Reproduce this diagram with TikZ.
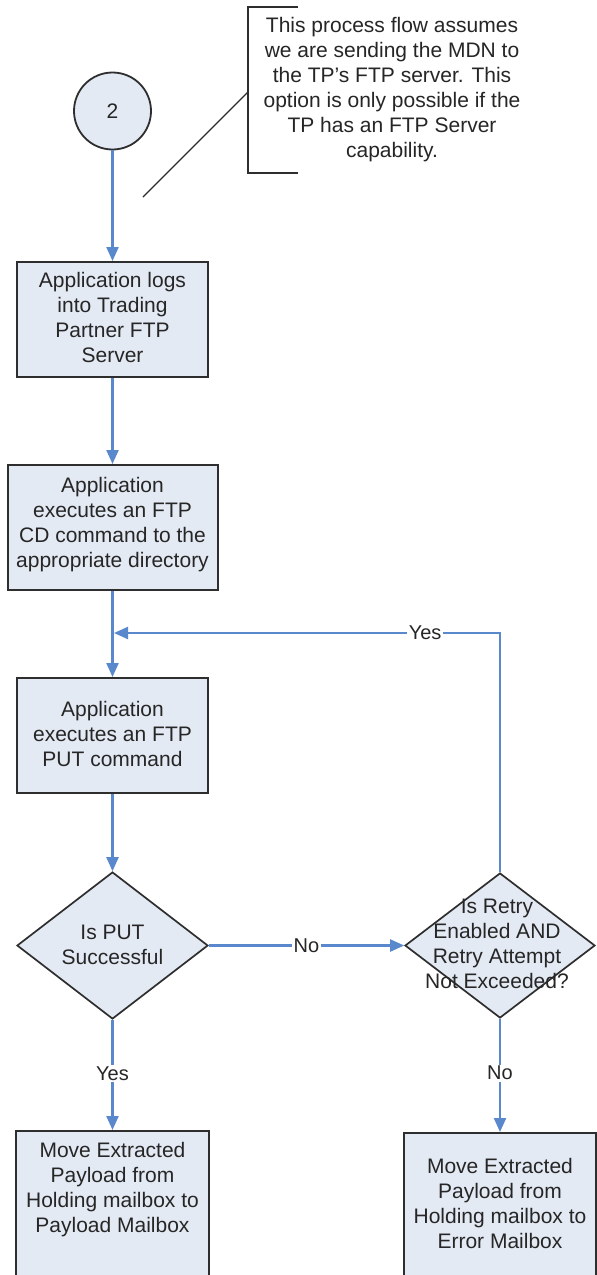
\documentclass[tikz,border=0pt]{standalone}
\usepackage{fontspec}
\setmainfont{Liberation Sans}
\usetikzlibrary{shapes.geometric,arrows.meta}
\definecolor{boxfill}{HTML}{E4EAF4}
\definecolor{boxdraw}{HTML}{2E2E2E}
\definecolor{flow}{HTML}{5A88CC}
\definecolor{txt}{HTML}{262626}
\tikzset{
  proc/.style={draw=boxdraw, line width=2pt, fill=boxfill, inner sep=0pt},
  dec/.style={diamond, draw=boxdraw, line width=1.7pt, fill=boxfill, inner sep=0pt},
  lbl/.style={text=txt, align=center, inner sep=0pt, font=\fontsize{21}{25}\selectfont},
  edgelbl/.style={fill=white, text=txt, inner sep=1.5pt, font=\fontsize{20}{24}\selectfont},
  flowline/.style={draw=flow, line width=2.2pt},
  arr/.style={flowline, -{Triangle[length=14pt,width=12pt]}},
  note/.style={draw=boxdraw, line width=1.7pt},
}
\begin{document}
\begin{tikzpicture}[x=1pt,y=-1pt]
\clip (0,0) rectangle (597,1275);
\fill[white] (0,0) rectangle (597,1275);

% start connector circle
\node[circle, draw=boxdraw, line width=1.8pt, fill=boxfill, minimum size=77pt, inner sep=0pt,
      text=txt, font=\fontsize{21}{25}\selectfont] (c2) at (112.5,111) {2};

% annotation
\coordinate (bt) at (298,7);
\coordinate (btl) at (248,7);
\coordinate (bbl) at (248,173);
\coordinate (bb) at (298,173);
\coordinate (bmid) at (248,92);
\coordinate (ptr) at (143,197);
\draw[note] (bt) -- (btl) -- (bbl) -- (bb);
\draw[draw=boxdraw, line width=1.4pt] (bmid) -- (ptr);
\node[lbl] (notetext) at (392,89.5) {This process flow assumes\\we are sending the MDN to\\the TP's FTP server. This\\option is only possible if the\\TP has an FTP Server\\capability.};

% process boxes
\node[proc, minimum width=191pt, minimum height=115pt] (b1) at (112.5,319.5) {};
\node[lbl] (b1t) at (112.5,317) {Application logs\\into Trading\\Partner FTP\\Server};

\node[proc, minimum width=210pt, minimum height=125pt] (b2) at (112.5,527.5) {};
\node[lbl] (b2t) at (112.5,524.5) {Application\\executes an FTP\\CD command to the\\appropriate directory};

\node[proc, minimum width=191pt, minimum height=115pt] (b3) at (112.5,735.5) {};
\node[lbl] (b3t) at (112.5,733.5) {Application\\executes an FTP\\PUT command};

% decisions
\node[dec, minimum width=191pt, minimum height=147pt] (d1) at (112.5,945.5) {};
\node[lbl] (d1t) at (112.5,945) {Is PUT\\Successful};

\node[dec, minimum width=190pt, minimum height=145pt] (d2) at (500,945.5) {};
\node[lbl] (d2t) at (497,944) {Is Retry\\Enabled AND\\Retry Attempt\\Not Exceeded?};

% end boxes (run off the bottom edge)
\node[proc, anchor=north, minimum width=193pt, minimum height=170pt] (b4) at (112.5,1130) {};
\node[lbl] (b4t) at (112.5,1190) {Move Extracted\\Payload from\\Holding mailbox to\\Payload Mailbox};

\node[proc, anchor=north, minimum width=192pt, minimum height=170pt] (b5) at (500,1132) {};
\node[lbl] (b5t) at (500,1203.5) {Move Extracted\\Payload from\\Holding mailbox to\\Error Mailbox};

% connectors
\coordinate (join) at (114,633);
\draw[arr] (c2.south) -- (b1.north);
\draw[arr] (b1.south) -- (b2.north);
\draw[arr] (b2.south) -- (b3.north);
\draw[arr] (b3.south) -- (d1.north);
\draw[arr] (d2.north) |- node[edgelbl, pos=0.597] (yes1) {Yes} (join);
\draw[arr] (d1.east) -- node[edgelbl, pos=0.5] (no1) {No} (d2.west);
\draw[arr] (d1.south) -- node[edgelbl, pos=0.487] (yes2) {Yes} (b4.north);
\draw[arr] (d2.south) -- node[edgelbl, pos=0.48] (no2) {No} (b5.north);
\end{tikzpicture}
\end{document}
